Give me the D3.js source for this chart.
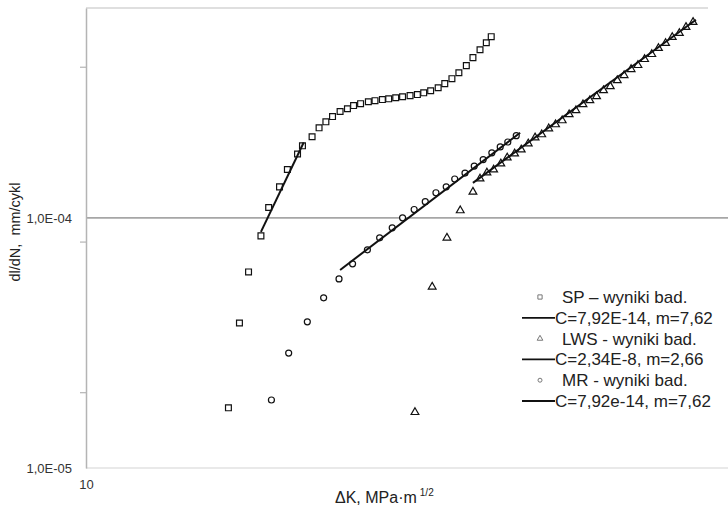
<!DOCTYPE html>
<html>
<head>
<meta charset="utf-8">
<script src="https://cdn.jsdelivr.net/npm/d3@7"></script>
<style>
  body { margin: 0; background: #fff; }
  svg { display: block; font-family: "Liberation Sans", Arial, sans-serif; }
</style>
</head>
<body>
<div id="chart"></div>
<script>
// SP - test results (dK, dl/dN)
const spK = [16.9, 17.6, 18.2, 19.05, 19.6, 20.4, 21.0, 21.8, 22.2, 23.0, 23.6, 24.2, 24.8, 25.5, 26.2, 26.8, 27.5, 28.3,
             29.0, 29.8, 30.5, 31.3, 32.1, 33.0, 33.9, 34.7, 35.6, 36.6, 37.5, 38.5, 39.5, 40.6, 41.6, 42.7, 43.7, 44.5];
const spV = [1.74e-5, 3.80e-5, 6.08e-5, 8.47e-5, 1.10e-4, 1.33e-4, 1.56e-4, 1.80e-4, 1.94e-4, 2.11e-4, 2.29e-4, 2.42e-4,
             2.54e-4, 2.66e-4, 2.73e-4, 2.81e-4, 2.86e-4, 2.91e-4, 2.94e-4, 2.97e-4, 2.99e-4, 3.02e-4, 3.05e-4, 3.08e-4,
             3.11e-4, 3.16e-4, 3.22e-4, 3.31e-4, 3.44e-4, 3.60e-4, 3.80e-4, 4.06e-4, 4.37e-4, 4.70e-4, 5.01e-4, 5.30e-4];
const spFitK = [19.05, 22.3];
const spFitV = [8.79e-5, 2.0e-4];

// LWS - test results
const lwsK = [33.6, 35.8, 37.8, 39.7, 41.6, 42.7, 43.8, 44.9, 46.1, 47.2, 48.5, 49.7, 51.0, 52.3, 53.6, 55.0, 56.4, 57.8,
              59.3, 60.8, 62.4, 64.0, 65.6, 67.3, 69.0, 70.8, 72.6, 74.5, 76.4, 78.3, 80.4, 82.4, 84.6, 86.7, 89.0, 91.2, 93.6];
const lwsV = [1.67e-5, 5.30e-5, 8.32e-5, 1.07e-4, 1.27e-4, 1.434e-4, 1.515e-4, 1.558e-4, 1.647e-4, 1.740e-4, 1.806e-4,
              1.874e-4, 1.981e-4, 2.094e-4, 2.153e-4, 2.275e-4, 2.361e-4, 2.450e-4, 2.590e-4, 2.687e-4, 2.840e-4, 2.947e-4,
              3.058e-4, 3.232e-4, 3.354e-4, 3.545e-4, 3.713e-4, 3.925e-4, 4.073e-4, 4.305e-4, 4.508e-4, 4.765e-4, 4.991e-4,
              5.275e-4, 5.473e-4, 5.786e-4, 6.059e-4];
const lwsFitK = [41.6, 94.6];
const lwsFitV = [1.38e-4, 6.19e-4];

// MR - test results
const mrK = [19.8, 21.1, 22.6, 24.0, 25.4, 26.7, 28.2, 29.5, 30.9, 32.1, 33.5, 34.9, 36.3, 37.7, 38.9, 40.4, 41.8, 43.2,
             44.6, 46.0, 47.3, 48.8];
const mrV = [1.87e-5, 2.88e-5, 3.84e-5, 4.79e-5, 5.70e-5, 6.55e-5, 7.45e-5, 8.32e-5, 9.12e-5, 1.00e-4, 1.08e-4, 1.16e-4,
             1.26e-4, 1.33e-4, 1.43e-4, 1.51e-4, 1.61e-4, 1.71e-4, 1.82e-4, 1.92e-4, 2.01e-4, 2.13e-4];
const mrFitK = [25.5, 49.5];
const mrFitV = [6.19e-5, 2.19e-4];

const yTicks = [1e-5, 1e-4];
const yMinorTicks = [2e-5, 8e-5, 4e-4];
const xTicks = [10];
const legendLabels = ["SP \u2013 wyniki bad.", "C=7,92E-14, m=7,62", "LWS - wyniki bad.",
                      "C=2,34E-8, m=2,66", "MR - wyniki bad.", "C=7,92e-14, m=7,62"];

const width = 728, height = 507;
const margin = { top: 8, right: 17, bottom: 39, left: 86 };

const svg = d3.select("#chart").append("svg")
    .attr("width", width)
    .attr("height", height);

const x = d3.scaleLog().domain([10, 100]).range([margin.left, width - margin.right]);
const y = d3.scaleLog().domain([1e-5, 6.9e-4]).range([height - margin.bottom, margin.top]);

const zip = (ks, vs) => ks.map((k, i) => ({ k: k, v: vs[i] }));

// plot frame: top line and x axis line
svg.append("line")
    .attr("x1", margin.left).attr("x2", width - 20)
    .attr("y1", margin.top).attr("y2", margin.top)
    .attr("stroke", "#d4d4d4").attr("stroke-width", 1.5);

svg.append("line")
    .attr("x1", margin.left).attr("x2", width)
    .attr("y1", y(1e-5)).attr("y2", y(1e-5))
    .attr("stroke", "#d4d4d4").attr("stroke-width", 1.2);

// gridline at 1E-04
svg.append("line")
    .attr("x1", margin.left).attr("x2", width)
    .attr("y1", y(1e-4)).attr("y2", y(1e-4))
    .attr("stroke", "#a6a6a6").attr("stroke-width", 1.8);

// y axis
const yAxis = svg.append("g")
    .attr("transform", `translate(${margin.left},0)`)
    .call(d3.axisLeft(y).tickValues(yTicks).tickSize(0).tickPadding(14)
        .tickFormat(d => "1,0E-" + String(-Math.round(Math.log10(d))).padStart(2, "0")));
yAxis.select(".domain").attr("stroke", "#b4b4b4").attr("stroke-width", 1.5);
yAxis.selectAll("text").attr("font-size", 13).attr("fill", "#333")
    .attr("font-family", "Liberation Sans, Arial, sans-serif");

svg.selectAll(".minor")
    .data(yMinorTicks)
    .join("line")
    .attr("x1", margin.left - 6).attr("x2", margin.left)
    .attr("y1", d => y(d)).attr("y2", d => y(d))
    .attr("stroke", "#b4b4b4").attr("stroke-width", 1.2);

// x axis labels
const xAxis = svg.append("g")
    .attr("transform", `translate(0,${y(1e-5)})`)
    .call(d3.axisBottom(x).tickValues(xTicks).tickSize(0).tickPadding(12).tickFormat(d3.format("d")));
xAxis.select(".domain").remove();
xAxis.selectAll("text").attr("font-size", 13).attr("fill", "#333")
    .attr("font-family", "Liberation Sans, Arial, sans-serif");

// axis titles
svg.append("text")
    .attr("transform", "translate(20,232) rotate(-90)")
    .attr("text-anchor", "middle")
    .attr("font-size", 14.5)
    .attr("fill", "#222")
    .style("white-space", "pre")
    .text("dl/dN,  mm/cykl");

const xTitle = svg.append("text")
    .attr("x", 335).attr("y", 503)
    .attr("font-size", 16)
    .attr("fill", "#222")
    .text("\u0394K, MPa\u00b7m");
xTitle.append("tspan")
    .attr("dx", 3).attr("dy", -7)
    .attr("font-size", 10)
    .text("1/2");

// markers
const square = d3.symbol().type(d3.symbolSquare).size(34);
const triangle = d3.symbol().type(d3.symbolTriangle).size(26);

function drawPoints(data, sym) {
    const g = svg.append("g");
    if (sym === "circle") {
        g.selectAll("circle").data(data).join("circle")
            .attr("cx", d => x(d.k)).attr("cy", d => y(d.v)).attr("r", 3)
            .attr("fill", "#fff").attr("stroke", "#111").attr("stroke-width", 1.2);
    } else {
        g.selectAll("path").data(data).join("path")
            .attr("transform", d => `translate(${x(d.k)},${y(d.v)})`)
            .attr("d", sym)
            .attr("fill", "#fff").attr("stroke", "#111").attr("stroke-width", 1.2);
    }
}

drawPoints(zip(spK, spV), square);
drawPoints(zip(lwsK, lwsV), triangle);
drawPoints(zip(mrK, mrV), "circle");

// fitted lines
const line = d3.line().x(d => x(d.k)).y(d => y(d.v));
[[spFitK, spFitV], [lwsFitK, lwsFitV], [mrFitK, mrFitV]].forEach(([ks, vs]) => {
    svg.append("path")
        .datum(zip(ks, vs))
        .attr("fill", "none")
        .attr("stroke", "#111")
        .attr("stroke-width", 2)
        .attr("d", line);
});

// legend
const legend = svg.append("g").attr("font-size", 17).attr("fill", "#222");
const smallSquare = d3.symbol().type(d3.symbolSquare).size(18);
const smallTriangle = d3.symbol().type(d3.symbolTriangle).size(14);

legendLabels.forEach((label, i) => {
    const ly = 297 + i * 20.8;
    if (i % 2 === 0) {
        const mark = legend.append("g").attr("transform", `translate(540,${ly})`);
        if (i === 4) {
            mark.append("circle").attr("r", 2).attr("fill", "#fff").attr("stroke", "#777").attr("stroke-width", 1);
        } else {
            mark.append("path").attr("d", i === 0 ? smallSquare : smallTriangle)
                .attr("fill", "#fff").attr("stroke", "#777").attr("stroke-width", 1);
        }
        legend.append("text").attr("x", 562).attr("y", ly).attr("dy", "0.35em").text(label);
    } else {
        legend.append("line")
            .attr("x1", 522).attr("x2", 555).attr("y1", ly).attr("y2", ly)
            .attr("stroke", "#111").attr("stroke-width", 1.8);
        legend.append("text").attr("x", 555).attr("y", ly).attr("dy", "0.35em").text(label);
    }
});
</script>
</body>
</html>
